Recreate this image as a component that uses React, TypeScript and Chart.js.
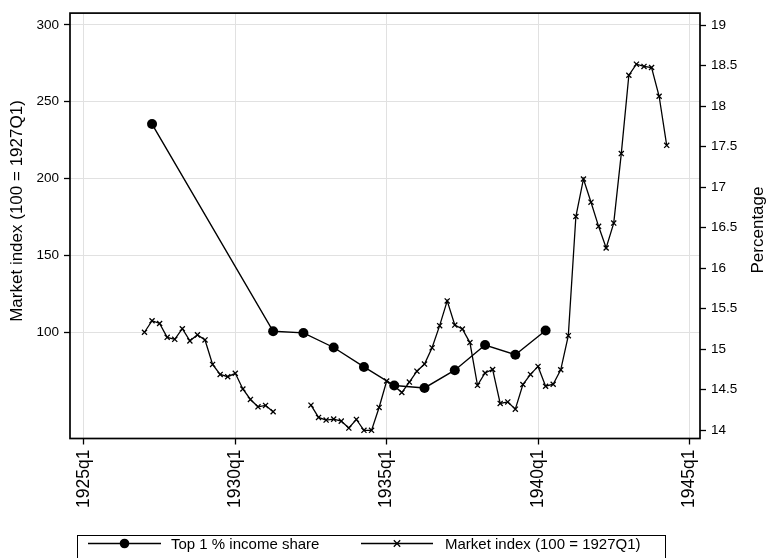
import React, { useEffect, useRef } from 'react';
import { Chart, registerables } from 'chart.js';

Chart.register(...registerables);

// ---------- DATA ----------
const marketQuarters = [
  '1927q1', '1927q2', '1927q3', '1927q4',
  '1928q1', '1928q2', '1928q3', '1928q4',
  '1929q1', '1929q2', '1929q3', '1929q4',
  '1930q1', '1930q2', '1930q3', '1930q4',
  '1931q1', '1931q2', '1931q3', '1931q4',
  '1932q1', '1932q2', '1932q3', '1932q4',
  '1933q1', '1933q2', '1933q3', '1933q4',
  '1934q1', '1934q2', '1934q3', '1934q4',
  '1935q1', '1935q2', '1935q3', '1935q4',
  '1936q1', '1936q2', '1936q3', '1936q4',
  '1937q1', '1937q2', '1937q3', '1937q4',
  '1938q1', '1938q2', '1938q3', '1938q4',
  '1939q1', '1939q2', '1939q3', '1939q4',
  '1940q1', '1940q2', '1940q3', '1940q4',
  '1941q1', '1941q2', '1941q3', '1941q4',
  '1942q1', '1942q2', '1942q3', '1942q4',
  '1943q1', '1943q2', '1943q3', '1943q4',
  '1944q1', '1944q2',
];

const marketIndex: (number | null)[] = [
  100, 107.5, 105.7, 96.7,
  95.4, 102.3, 94.4, 98.3,
  95, 79.1, 72.6, 71.1,
  73.3, 63.1, 56.3, 51.5,
  52.4, 48.3, null, null,
  null, null, 52.6, 44.6,
  42.9, 43.5, 42.2, 37.7,
  43.3, 36.2, 36.2, 51.1,
  68.3, 65, 60.8, 67.6,
  74.7, 79.3, 89.9, 104.3,
  120.4, 104.7, 102.1, 93.3,
  65.5, 73.5, 75.8, 53.7,
  54.7, 50, 66, 72.6,
  77.8, 64.9, 66.2, 75.6,
  97.8, 175.3, 199.7, 184.6,
  168.9, 154.8, 171, 216.2,
  267.2, 274.4, 272.9, 272.2,
  253.5, 221.6,
];

const shareQuarters = [
  '1927q2', '1931q2', '1932q2', '1933q2', '1934q2', '1935q2',
  '1936q2', '1937q2', '1938q2', '1939q2', '1940q2',
];

const topShare = [
  17.78, 15.22, 15.2, 15.02, 14.78, 14.55,
  14.52, 14.74, 15.05, 14.93, 15.23,
];

const xTickLabels = ['1925q1', '1930q1', '1935q1', '1940q1', '1945q1'];
const leftTicks = [100, 150, 200, 250, 300];
const rightTicks = [14, 14.5, 15, 15.5, 16, 16.5, 17, 17.5, 18, 18.5, 19];

const leftTitle = 'Market index (100 = 1927Q1)';
const rightTitle = 'Percentage';
const shareLabel = 'Top 1 % income share';
const marketLabel = 'Market index (100 = 1927Q1)';

// ---------- HELPERS ----------
function qToNum(q: string): number {
  const [y, qq] = q.split('q');
  return Number(y) + (Number(qq) - 1) / 4;
}

const FONT = '"Liberation Sans", Arial, Helvetica, sans-serif';
const GRID = '#e1e1e1';

const decorPlugin = {
  id: 'decor',
  afterDraw(chart: any) {
    const { ctx, chartArea: a } = chart;
    ctx.save();
    // plot frame
    ctx.strokeStyle = '#000';
    ctx.lineWidth = 1.7;
    ctx.strokeRect(a.left, a.top, a.right - a.left, a.bottom - a.top);

    // axis titles
    ctx.fillStyle = '#000';
    ctx.font = `17px ${FONT}`;
    ctx.textAlign = 'center';
    ctx.textBaseline = 'middle';
    ctx.save();
    ctx.translate(17, 211);
    ctx.rotate(-Math.PI / 2);
    ctx.fillText(leftTitle, 0, 0);
    ctx.restore();
    ctx.save();
    ctx.translate(758, 230);
    ctx.rotate(-Math.PI / 2);
    ctx.fillText(rightTitle, 0, 0);
    ctx.restore();

    // legend box
    ctx.lineWidth = 1;
    ctx.strokeStyle = '#000';
    ctx.strokeRect(77.5, 535.5, 588, 40);
    const ly = 543.5;
    ctx.lineWidth = 1.3;
    ctx.beginPath();
    ctx.moveTo(88, ly);
    ctx.lineTo(161, ly);
    ctx.stroke();
    ctx.beginPath();
    ctx.arc(124.5, ly, 4.8, 0, Math.PI * 2);
    ctx.fill();
    ctx.beginPath();
    ctx.moveTo(361, ly);
    ctx.lineTo(433, ly);
    ctx.stroke();
    const cx = 397;
    const r = 3.2;
    ctx.beginPath();
    ctx.moveTo(cx - r, ly - r);
    ctx.lineTo(cx + r, ly + r);
    ctx.moveTo(cx - r, ly + r);
    ctx.lineTo(cx + r, ly - r);
    ctx.stroke();
    ctx.font = `15px ${FONT}`;
    ctx.textAlign = 'left';
    ctx.textBaseline = 'middle';
    ctx.fillText(shareLabel, 171, ly + 1);
    ctx.fillText(marketLabel, 445, ly + 1);
    ctx.restore();
  },
};

export default function App() {
  const ref = useRef<HTMLCanvasElement | null>(null);

  useEffect(() => {
    if (!ref.current) return;
    const chart = new Chart(ref.current, {
      type: 'line',
      data: {
        datasets: [
          {
            label: shareLabel,
            data: shareQuarters.map((q, i) => ({ x: qToNum(q), y: topShare[i] })),
            yAxisID: 'y1',
            borderColor: '#000',
            backgroundColor: '#000',
            borderWidth: 1.4,
            pointStyle: 'circle',
            pointRadius: 5,
            pointBackgroundColor: '#000',
            pointBorderColor: '#000',
            pointBorderWidth: 0,
            tension: 0,
          },
          {
            label: marketLabel,
            data: marketQuarters.map((q, i) => ({ x: qToNum(q), y: marketIndex[i] })),
            yAxisID: 'y',
            borderColor: '#000',
            backgroundColor: '#000',
            borderWidth: 1.3,
            pointStyle: 'crossRot',
            pointRadius: 3.6,
            pointBorderColor: '#000',
            pointBorderWidth: 1.3,
            spanGaps: false,
            tension: 0,
          },
        ],
      },
      options: {
        animation: false,
        responsive: false,
        events: [],
        layout: { padding: { top: 10, left: 0, right: 0, bottom: 0 } },
        plugins: {
          legend: { display: false },
          tooltip: { enabled: false },
          title: { display: false },
        },
        scales: {
          x: {
            type: 'linear',
            min: 1924.54,
            max: 1945.35,
            afterBuildTicks: (s: any) => {
              s.ticks = xTickLabels.map((l) => ({ value: qToNum(l) }));
            },
            afterFit: (s: any) => {
              s.height = 119.5;
            },
            ticks: {
              autoSkip: false,
              minRotation: 90,
              maxRotation: 90,
              padding: 5,
              color: '#000',
              font: { family: FONT, size: 17.5 },
              callback: (_v: any, i: number) => xTickLabels[i],
            },
            grid: { color: GRID, lineWidth: 1, tickColor: '#000', tickLength: 6, tickWidth: 1.3 },
            border: { display: false },
          },
          y: {
            type: 'linear',
            position: 'left',
            min: 30.9,
            max: 307.6,
            afterBuildTicks: (s: any) => {
              s.ticks = leftTicks.map((v) => ({ value: v }));
            },
            afterFit: (s: any) => {
              s.width = 70;
            },
            ticks: {
              padding: 5,
              color: '#000',
              font: { family: FONT, size: 13.5 },
              callback: (v: any) => String(v),
            },
            grid: { color: GRID, lineWidth: 1, tickColor: '#000', tickLength: 6, tickWidth: 1.3 },
            border: { display: false },
          },
          y1: {
            type: 'linear',
            position: 'right',
            min: 13.896,
            max: 19.15,
            afterBuildTicks: (s: any) => {
              s.ticks = rightTicks.map((v) => ({ value: v }));
            },
            afterFit: (s: any) => {
              s.width = 67;
            },
            ticks: {
              padding: 5,
              color: '#000',
              font: { family: FONT, size: 13.5 },
              callback: (v: any) => String(v),
            },
            grid: {
              drawOnChartArea: false,
              tickColor: '#000',
              tickLength: 6,
              tickWidth: 1.3,
            },
            border: { display: false },
          },
        },
      },
      plugins: [decorPlugin],
    });
    return () => chart.destroy();
  }, []);

  return (
    <div style={{ position: 'absolute', left: 0, top: 0, width: 767, height: 558, background: '#fff' }}>
      <canvas ref={ref} width={767} height={558} />
    </div>
  );
}
